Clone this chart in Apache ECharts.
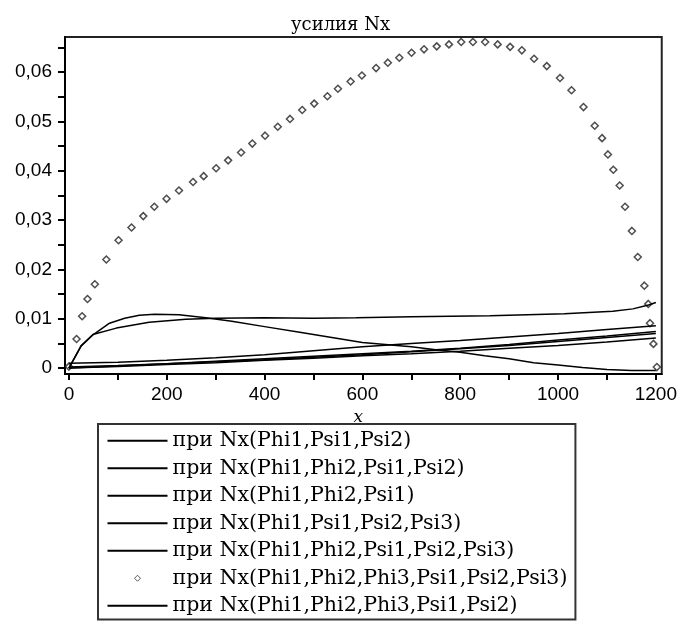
<!DOCTYPE html>
<html>
<head>
<meta charset="utf-8">
<script src="https://cdn.jsdelivr.net/npm/echarts@6/dist/echarts.min.js"></script>
<style>
  html, body { margin: 0; padding: 0; background: #fff; }
  #chart { width: 680px; height: 625px; }
</style>
</head>
<body>
<div id="chart"></div>
<script>
// series names (legend order)
var names = [
  'при Nx(Phi1,Psi1,Psi2)',
  'при Nx(Phi1,Phi2,Psi1,Psi2)',
  'при Nx(Phi1,Phi2,Psi1)',
  'при Nx(Phi1,Psi1,Psi2,Psi3)',
  'при Nx(Phi1,Phi2,Psi1,Psi2,Psi3)',
  'при Nx(Phi1,Phi2,Phi3,Psi1,Psi2,Psi3)',
  'при Nx(Phi1,Phi2,Phi3,Psi1,Psi2)'
];

// hump curve
var humpX = [0, 25, 50, 83, 114, 144, 175, 225, 280, 333, 400, 475, 550, 600, 700, 750, 800, 850, 900, 950, 1000, 1050, 1100, 1150, 1200];
var humpY = [0, 0.0045, 0.0068, 0.0091, 0.0101, 0.0107, 0.0109, 0.0108, 0.0102, 0.0095, 0.0084, 0.0072, 0.0060, 0.0052, 0.0043, 0.0037, 0.0032, 0.0025, 0.0019, 0.0011, 0.0006, 0.0001, -0.0003, -0.0005, -0.0005];

// plateau curve
var platX = [0, 25, 49, 97, 164, 239, 300, 400, 500, 587, 700, 861, 1013, 1112, 1153, 1185, 1200];
var platY = [0, 0.0045, 0.0068, 0.0081, 0.0093, 0.0099, 0.0101, 0.0102, 0.0101, 0.0102, 0.0104, 0.0106, 0.0110, 0.0115, 0.0120, 0.0128, 0.0133];

// lower nearly straight curves
var lowX = [0, 100, 200, 300, 400, 500, 600, 700, 800, 900, 1000, 1100, 1200];
var low1 = [0.0010, 0.0012, 0.0016, 0.0021, 0.0027, 0.0035, 0.0043, 0.0050, 0.0056, 0.0063, 0.0070, 0.0078, 0.0086];
var low2 = [0, 0.0004, 0.0009, 0.0014, 0.0019, 0.0024, 0.0029, 0.0034, 0.0040, 0.0048, 0.0057, 0.0065, 0.0074];
var low3 = [0, 0.0003, 0.0007, 0.0011, 0.0016, 0.0020, 0.0025, 0.0029, 0.0034, 0.0040, 0.0046, 0.0053, 0.0061];
var low4 = [0.0002, 0.0005, 0.0009, 0.0013, 0.0017, 0.0022, 0.0027, 0.0033, 0.0039, 0.0046, 0.0054, 0.0062, 0.0070];

// diamond points
var dotX = [0, 15.6, 27, 38, 53, 76.5, 101.5, 128, 152, 174.6, 199.6, 225, 253.8, 275.5, 301, 325.5, 352, 375, 401, 427, 452, 477, 501.5, 528.5, 550, 576, 599, 628, 652, 675.5, 700.5, 726, 752, 777, 802, 826, 851, 876.5, 902, 926, 951, 977, 1004, 1027.5, 1052, 1075, 1090, 1102, 1113, 1126, 1137, 1151, 1163, 1176.5, 1184.5, 1188, 1195, 1202];
var dotY = [0.0003, 0.0059, 0.0105, 0.0140, 0.0170, 0.0220, 0.0259, 0.0285, 0.0308, 0.0327, 0.0343, 0.0360, 0.0377, 0.0389, 0.0405, 0.0421, 0.0437, 0.0455, 0.0471, 0.0489, 0.0505, 0.0523, 0.0536, 0.0551, 0.0566, 0.0581, 0.0593, 0.0608, 0.0619, 0.0629, 0.0639, 0.0646, 0.0652, 0.0656, 0.0661, 0.0661, 0.0661, 0.0656, 0.0651, 0.0644, 0.0627, 0.0612, 0.0588, 0.0563, 0.0529, 0.0491, 0.0466, 0.0433, 0.0402, 0.0370, 0.0327, 0.0278, 0.0225, 0.0167, 0.0130, 0.0091, 0.0049, 0.0002];

var xTicks = [0, 100, 200, 300, 400, 500, 600, 700, 800, 900, 1000, 1100, 1200];
var xLabels = [0, 200, 400, 600, 800, 1000, 1200];
var yTicks = [0, 0.005, 0.01, 0.015, 0.02, 0.025, 0.03, 0.035, 0.04, 0.045, 0.05, 0.055, 0.06, 0.065];
var yLabels = [0, 0.01, 0.02, 0.03, 0.04, 0.05, 0.06];

function zip(xs, ys) {
  return xs.map(function (x, i) { return [x, ys[i]]; });
}

var LINE_ICON = 'path://M0,0M60,12M0,5H60V7H0Z';
var DOT_ICON = 'path://M0,0M60,12M30,3L33,6L30,9L27,6Z';

var lineData = [zip(lowX, low1), zip(humpX, humpY), zip(lowX, low2), zip(lowX, low3), zip(platX, platY), null, zip(lowX, low4)];

var series = names.map(function (n, i) {
  if (i === 5) {
    return {
      name: n, type: 'scatter', data: zip(dotX, dotY),
      symbol: 'diamond', symbolSize: 7,
      itemStyle: { color: '#fff', borderColor: '#222', borderWidth: 1.5 }
    };
  }
  return {
    name: n, type: 'line', data: lineData[i], showSymbol: false, symbol: 'none',
    lineStyle: { color: '#000', width: 1.5 }, itemStyle: { color: '#000' }
  };
});

var chart = echarts.init(document.getElementById('chart'), null, { renderer: 'canvas' });
var tickFont = 'Liberation Sans';
chart.setOption({
  animation: false,
  backgroundColor: '#fff',
  title: {
    text: 'усилия Nx', left: 286, top: 11,
    textStyle: { fontFamily: 'DejaVu Serif', fontWeight: 'normal', fontSize: 18, color: '#000' }
  },
  grid: { left: 65, right: 14, top: 37, bottom: 251, show: true, borderColor: '#222', borderWidth: 2, containLabel: false },
  xAxis: {
    type: 'value', min: -8, max: 1212,
    name: 'x', nameLocation: 'middle', nameGap: 20,
    nameTextStyle: { fontFamily: 'DejaVu Serif', fontStyle: 'italic', fontSize: 17, color: '#000', padding: [0, 10, 0, 0] },
    axisLine: { onZero: false, lineStyle: { color: '#000', width: 2 } },
    axisTick: { customValues: xTicks, length: 6, lineStyle: { color: '#000', width: 2 } },
    axisLabel: {
      customValues: xLabels, margin: 11, fontFamily: tickFont, fontSize: 19, color: '#000',
      formatter: function (v) { return String(v); }
    },
    splitLine: { show: false }
  },
  yAxis: {
    type: 'value', min: -0.0012, max: 0.0671,
    axisLine: { onZero: false, lineStyle: { color: '#000', width: 2 } },
    axisTick: { customValues: yTicks, length: 7, lineStyle: { color: '#000', width: 2 } },
    axisLabel: {
      customValues: yLabels, margin: 13, fontFamily: tickFont, fontSize: 19, color: '#000',
      formatter: function (v) { return v === 0 ? '0' : v.toFixed(2).replace('.', ','); }
    },
    splitLine: { show: false }
  },
  legend: {
    orient: 'vertical', left: 98, top: 424,
    padding: [3, 8, 0, 9], itemGap: 0,
    itemWidth: 60, itemHeight: 12,
    backgroundColor: '#fff', borderColor: '#333', borderWidth: 2, borderRadius: 0,
    selectedMode: false,
    textStyle: { fontFamily: 'DejaVu Serif', fontSize: 20.5, color: '#000', lineHeight: 27.5 },
    data: names.map(function (n, i) {
      return i === 5
        ? { name: n, icon: DOT_ICON, itemStyle: { color: '#fff', borderColor: '#333', borderWidth: 1 } }
        : { name: n, icon: LINE_ICON, itemStyle: { color: '#000', borderWidth: 0 } };
    })
  },
  series: series
});
</script>
</body>
</html>
